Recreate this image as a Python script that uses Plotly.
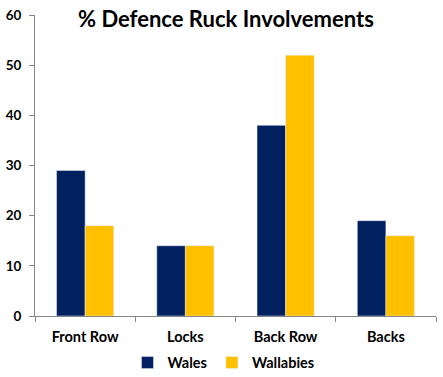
import plotly.graph_objects as go

categories = ["Front Row", "Locks", "Back Row", "Backs"]
wales = [29, 14, 38, 19]
wallabies = [18, 14, 52, 16]
series_names = ["Wales", "Wallabies"]
y_ticks = [0, 10, 20, 30, 40, 50, 60]

FONT = "Lato"
W, H = 443, 377

fig = go.Figure()
fig.add_trace(go.Bar(x=categories, y=wales, name="<b>%s</b>" % series_names[0], marker_color="#002060"))
fig.add_trace(go.Bar(x=categories, y=wallabies, name="<b>%s</b>" % series_names[1], marker_color="#FFC000"))

fig.update_layout(
    width=W, height=H,
    margin=dict(l=35, r=7, t=15, b=61, autoexpand=False),
    paper_bgcolor="white", plot_bgcolor="white",
    barmode="group", bargap=0.43, bargroupgap=0,
    font=dict(family=FONT, size=13, color="black"),
    title=dict(text="<b>% Defence Ruck Involvements</b>", x=0.51, xanchor="center",
               y=1 - 19/H, yanchor="middle", yref="container",
               font=dict(family=FONT, size=22, color="black")),
    legend=dict(orientation="h", x=0.47, xanchor="center", y=-0.155, yanchor="middle",
                font=dict(family=FONT, size=14.5, color="black"), itemwidth=30,
                traceorder="normal"),
    showlegend=True,
)
fig.update_xaxes(showline=True, linecolor="#868686", linewidth=1,
                 ticks="outside", ticklen=5, tickcolor="#868686",
                 tickson="boundaries", automargin=False, ticklabelstandoff=8,
                 tickfont=dict(family=FONT, size=14.5, color="black"),
                 tickprefix="<b>", ticksuffix="</b>", showgrid=False)
fig.update_yaxes(range=[0, 60], tickvals=y_ticks, ticktext=["<b>%d</b>" % v for v in y_ticks],
                 showline=True, linecolor="#868686", linewidth=1, automargin=False,
                 ticks="outside", ticklen=5, tickcolor="#868686", ticklabelstandoff=5,
                 tickfont=dict(family=FONT, size=13.5, color="black"),
                 showgrid=False, zeroline=False)

fig.write_html("out.html", post_script="document.body.style.margin='0';",
               config={"displayModeBar": False})
